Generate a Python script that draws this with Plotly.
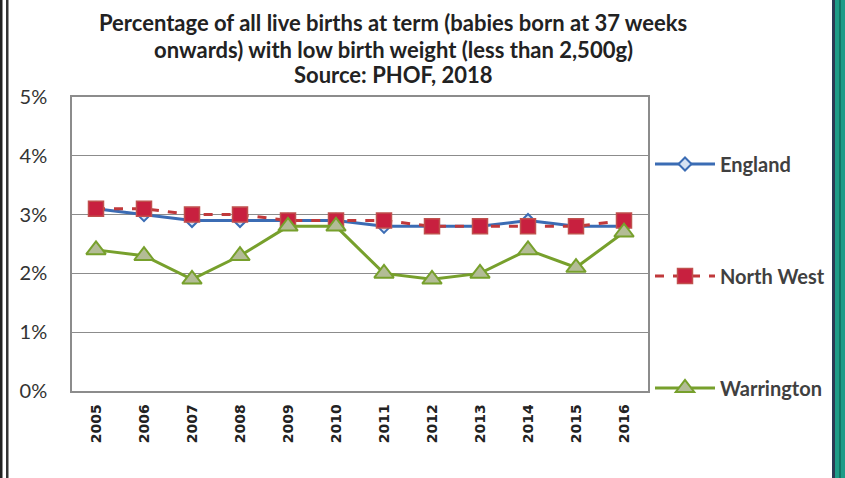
import plotly.graph_objects as go

years = ["2005", "2006", "2007", "2008", "2009", "2010", "2011", "2012", "2013", "2014", "2015", "2016"]
england = [3.1, 3.0, 2.9, 2.9, 2.9, 2.9, 2.8, 2.8, 2.8, 2.9, 2.8, 2.8]
north_west = [3.1, 3.1, 3.0, 3.0, 2.9, 2.9, 2.9, 2.8, 2.8, 2.8, 2.8, 2.9]
warrington = [2.4, 2.3, 1.9, 2.3, 2.8, 2.8, 2.0, 1.9, 2.0, 2.4, 2.1, 2.7]
y_ticks = [0, 1, 2, 3, 4, 5]
y_tick_labels = ["0%", "1%", "2%", "3%", "4%", "5%"]
title_lines = [
    "Percentage of all live births at term (babies born at 37 weeks",
    "onwards) with low birth weight (less than 2,500g)",
    "Source: PHOF, 2018",
]

W, H = 845, 478
L, R, T, B = 72, 648, 97, 391

def px(x):
    return (x - L) / (R - L)

def py(y):
    return (B - y) / (B - T)

fig = go.Figure()
fig.add_trace(go.Scatter(
    x=years, y=england, name="England", mode="lines+markers",
    line=dict(color="#3B6CB4", width=3),
    marker=dict(symbol="diamond", size=10, color="#D6E2F3", line=dict(color="#3B6CB4", width=2)),
    legend="legend", showlegend=True,
))
fig.add_trace(go.Scatter(
    x=years, y=north_west, name="North West", mode="lines+markers",
    line=dict(color="#C0393B", width=3, dash="dash"),
    marker=dict(symbol="square", size=15, color="#C8203F", line=dict(color="#C0504D", width=1.5)),
    legend="legend2", showlegend=True,
))
fig.add_trace(go.Scatter(
    x=years, y=warrington, name="Warrington", mode="lines+markers",
    line=dict(color="#77A02C", width=3),
    marker=dict(symbol="triangle-up", size=17, color="#B3BC96", line=dict(color="#77A02C", width=2)),
    legend="legend3", showlegend=True,
))

legend_common = dict(
    xanchor="left", yanchor="middle", bgcolor="rgba(0,0,0,0)",
    font=dict(family="Lato", size=20, color="#404040", weight="bold"),
    itemwidth=60, visible=True,
)

shapes = []
shapes.append(dict(type="rect", xref="paper", yref="paper", x0=px(0), x1=px(2.5), y0=py(H), y1=py(0),
                   fillcolor="#222222", line=dict(width=0), layer="above"))
shapes.append(dict(type="rect", xref="paper", yref="paper", x0=px(6), x1=px(8.5), y0=py(H), y1=py(0),
                   fillcolor="#333333", line=dict(width=0), layer="above"))
shapes.append(dict(type="rect", xref="paper", yref="paper", x0=px(832), x1=px(835), y0=py(H), y1=py(0),
                   fillcolor="#2B3A55", line=dict(width=0), layer="above"))
shapes.append(dict(type="rect", xref="paper", yref="paper", x0=px(835), x1=px(845), y0=py(H), y1=py(0),
                   fillcolor="#1E9C88", line=dict(width=0), layer="above"))
shapes.append(dict(type="rect", xref="paper", yref="paper", x0=px(839), x1=px(841), y0=py(H), y1=py(0),
                   fillcolor="#137565", line=dict(width=0), layer="above"))

title_y = [22, 49, 75]
annotations = [
    dict(text=t, xref="paper", yref="paper", x=px(393), y=py(yy), xanchor="center", yanchor="middle",
         showarrow=False, font=dict(family="Lato", size=22, color="#222222", weight="bold"))
    for t, yy in zip(title_lines, title_y)
]

fig.update_layout(
    width=W, height=H,
    margin=dict(l=L, r=W - R, t=T, b=H - B, pad=0),
    paper_bgcolor="white", plot_bgcolor="white",
    showlegend=True,
    xaxis=dict(
        type="category", range=[-0.5, 11.5], tickangle=-90, showgrid=False, ticks="",
        showline=True, linecolor="#8C8C8C", linewidth=1.5, mirror=True,
        tickfont=dict(family="DejaVu Sans", size=14, color="#222222", weight="bold"),
        ticklabelstandoff=6,
    ),
    yaxis=dict(
        range=[0, 5], tickvals=y_ticks, ticktext=y_tick_labels, showgrid=True,
        gridcolor="#8C8C8C", gridwidth=1.2, zeroline=False,
        showline=True, linecolor="#8C8C8C", linewidth=1.5, mirror=True, ticks="",
        tickfont=dict(family="Lato", size=20, color="#333333"), ticklabelstandoff=19,
    ),
    legend=dict(x=px(650), y=py(164), **legend_common),
    legend2=dict(x=px(650), y=py(276), **legend_common),
    legend3=dict(x=px(650), y=py(388), **legend_common),
    shapes=shapes,
    annotations=annotations,
)

fig.write_html("out.html", config={"displayModeBar": False},
               post_script="document.body.style.margin='0';")
